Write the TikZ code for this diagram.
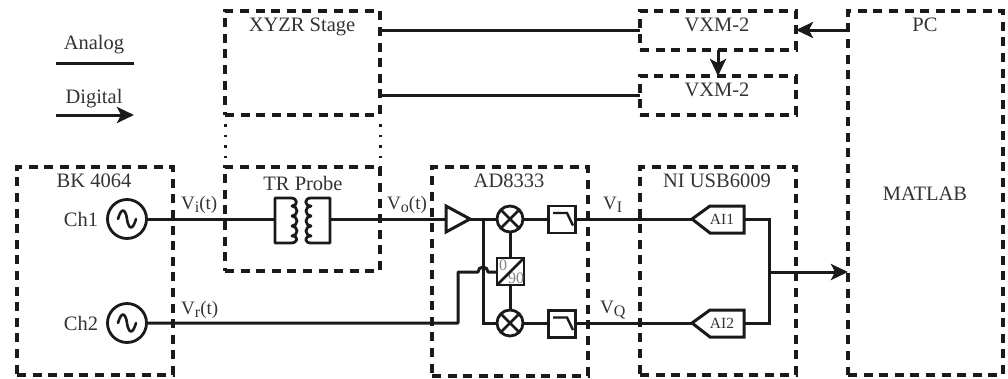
\documentclass[tikz,border=0pt]{standalone}
\usepackage{fontspec}
\setmainfont{Liberation Serif}
\usetikzlibrary{arrows.meta}
\definecolor{ink}{HTML}{1A1A1A}
\definecolor{txt}{HTML}{333333}
\tikzset{
  dbox/.style={draw=ink,line width=3.2pt,dash pattern=on 9pt off 6.6pt,inner sep=0pt,outer sep=0pt,anchor=north west},
  title/.style={text=txt,font=\fontsize{20.5}{21}\selectfont,inner sep=0pt},
  sig/.style={text=txt,font=\fontsize{19}{20}\selectfont,inner sep=0pt,anchor=base west},
  wire/.style={draw=ink,line width=3pt},
  digi/.style={wire,-{Stealth[length=17pt,width=16pt,inset=4pt]}},
  srcnode/.style={circle,draw=ink,line width=2.8pt,minimum size=39pt,inner sep=0pt,outer sep=0pt},
  mixnode/.style={circle,draw=ink,line width=2.8pt,fill=white,minimum size=26pt,inner sep=0pt,outer sep=0pt},
  sqnode/.style={rectangle,draw=ink,line width=2.8pt,fill=white,minimum size=27pt,inner sep=0pt,outer sep=0pt},
}
\newcommand{\subtxt}[1]{\raisebox{-3.5pt}{\fontsize{16}{16}\selectfont #1}}
\begin{document}
\begin{tikzpicture}[x=1pt,y=-1pt]
\useasboundingbox (0,0) rectangle (1008,378);
% dashed boxes
\node[dbox,minimum width=156pt,minimum height=208pt] (bk) at (17,167) {};
\node[dbox,minimum width=155pt,minimum height=104pt] (xyzr) at (225,11) {};
\node[dbox,minimum width=155pt,minimum height=104pt] (tr) at (225,167) {};
\node[dbox,minimum width=156pt,minimum height=209pt] (ad) at (432,167) {};
\node[dbox,minimum width=156pt,minimum height=208pt] (ni) at (640,167) {};
\node[dbox,minimum width=156pt,minimum height=39pt] (vxma) at (640,11) {};
\node[dbox,minimum width=156pt,minimum height=39pt] (vxmb) at (640,76) {};
\node[dbox,minimum width=155pt,minimum height=364pt] (pc) at (848,11) {};
% dotted links
\draw[draw=ink,line width=3pt,dash pattern=on 2.6pt off 8pt] (xyzr.south west) ++(0,9) -- (tr.north west);
\draw[draw=ink,line width=3pt,dash pattern=on 2.6pt off 8pt] (xyzr.south east) ++(0,9) -- (tr.north east);
% titles
\node[title] (tbk) at (94,181) {BK 4064};
\node[title] (txyzr) at (302,27) {XYZR Stage};
\node[title] (ttr) at (303,183) {TR Probe};
\node[title] (tad) at (509,181) {AD8333};
\node[title] (tni) at (717,181) {NI USB6009};
\node[title] (tva) at (717,25) {VXM-2};
\node[title] (tvb) at (717,90) {VXM-2};
\node[title] (tpc) at (925,25) {PC};
\node[title] (tmat) at (925,194) {MATLAB};
\node[title] (tan) at (94,44.5) {Analog};
\node[title] (tdi) at (94,98.5) {Digital};
\node[title] (tc1) at (81,219) {Ch1};
\node[title] (tc2) at (81,323) {Ch2};
% legend
\coordinate (la) at (56,63); \coordinate (lb) at (134,63);
\coordinate (da) at (56,115); \coordinate (db) at (134,115);
\draw[wire] (la) -- (lb);
\draw[digi] (da) -- (db);
% sources
\node[srcnode] (s1) at (127,219) {};
\node[srcnode] (s2) at (127,323) {};
\foreach \s in {s1,s2}{
  \draw[draw=ink,line width=2.6pt,line cap=round] ([xshift=-9pt]\s.center) .. controls ([xshift=-5pt,yshift=14pt]\s.center) and ([xshift=-1pt,yshift=8pt]\s.center) .. (\s.center) .. controls ([xshift=1pt,yshift=-8pt]\s.center) and ([xshift=5pt,yshift=-14pt]\s.center) .. ([xshift=9pt]\s.center);
}
% transformer
\coordinate (tl) at (275,219); \coordinate (tr2) at (330,219);
\draw[wire,line join=round,line width=2.8pt] (291,243) -- (275,243) -- (275,198) -- (291,198)
  .. controls (298,198) and (298,206) .. (292,206)
  arc[start angle=90,end angle=-90,radius=5pt]
  arc[start angle=90,end angle=-90,radius=5pt]
  arc[start angle=90,end angle=-90,radius=5pt]
  .. controls (299,236) and (298,243) .. (291,243);
\draw[wire,line join=round,line width=2.8pt] (311,243) -- (330,243) -- (330,198) -- (311,198)
  .. controls (304,198) and (304,206) .. (311,206)
  arc[start angle=90,end angle=270,radius=5pt]
  arc[start angle=90,end angle=270,radius=5pt]
  arc[start angle=90,end angle=270,radius=5pt]
  .. controls (304,236) and (304,243) .. (311,243);
% amp
\coordinate (ampa) at (446,206); \coordinate (ampb) at (446,232); \coordinate (ampt) at (470,219); \coordinate (ampi) at (446,219);
\draw[wire,fill=white,line join=miter] (ampa) -- (ampt) -- (ampb) -- cycle;
% mixers, filters, phase
\node[mixnode] (m1) at (510,219) {};
\node[mixnode] (m2) at (510,323) {};
\foreach \m in {m1,m2}{
  \draw[draw=ink,line width=2.6pt] (\m.45) -- (\m.225) (\m.135) -- (\m.315);
}
\node[sqnode] (f1) at (562,219.5) {};
\node[sqnode] (f2) at (562,324) {};
\foreach \f in {f1,f2}{
  \draw[draw=ink,line width=2.4pt] ([xshift=-9pt,yshift=6.5pt]\f.center) -- ([xshift=5pt,yshift=6.5pt]\f.center) -- ([xshift=11pt,yshift=-6pt]\f.center);
}
\node[sqnode] (ph) at (510.5,271.5) {};
\node[text=gray,inner sep=0pt,font=\fontsize{16}{16}\selectfont] (ph0) at (503,265) {0};
\node[text=gray,inner sep=0pt,font=\fontsize{16}{16}\selectfont] (ph90) at (516,278) {90};
\draw[draw=ink,line width=2.6pt] (ph.south west) -- (ph.north east);
% AI blocks
\coordinate (a1t) at (692,219); \coordinate (a1r) at (744,219);
\coordinate (a2t) at (692,323); \coordinate (a2r) at (744,323);
\draw[wire,fill=white] (a1t) -- (710,206) -- (744,206) -- (744,233) -- (710,233) -- cycle;
\draw[wire,fill=white] (a2t) -- (710,310) -- (744,310) -- (744,337) -- (710,337) -- cycle;
\node[text=txt,inner sep=0pt,font=\fontsize{15.5}{16}\selectfont] (ai1) at (722,219.5) {AI1};
\node[text=txt,inner sep=0pt,font=\fontsize{15.5}{16}\selectfont] (ai2) at (722,323.5) {AI2};
% wires
\draw[wire] (s1.east) -- (tl);
\draw[wire] (tr2) -- (ampi);
\draw[wire] (ampt) -- (m1.west);
\draw[wire] (m1.east) -- (f1.west |- m1.east);
\draw[wire] (f1.east |- m1.east) -- (a1t);
\draw[wire] (m2.east) -- (f2.west |- m2.east);
\draw[wire] (f2.east |- m2.east) -- (a2t);
\draw[wire] (m1.south) -- (m1.south |- ph.north);
\draw[wire] (m2.north) -- (m2.north |- ph.south);
\coordinate (vt) at (483,219);
\coordinate (vb) at (483,323);
\coordinate (c2a) at (458,323);
\coordinate (c2b) at (458,272);
\coordinate (hopa) at (478,272);
\coordinate (hopb) at (488,272);
\coordinate (phin) at (ph.west |- hopb);
\draw[wire] (vt) -- (vb) -- (m2.west);
\draw[wire,line join=round] (s2.east) -- (c2a) -- (c2b) -- (hopa) arc[start angle=180,end angle=0,radius=5pt] -- (phin);
\coordinate (orr) at (769,272);
\draw[wire,line join=miter] (a1r) -- (769,219) -- (769,323) -- (a2r);
\draw[digi] (orr) -- (pc.west |- orr);
\coordinate (xa) at (xyzr.east |- 0,30);
\coordinate (xb) at (xyzr.east |- 0,95);
\draw[wire] (xa) -- (vxma.west |- xa);
\draw[wire] (xb) -- (vxmb.west |- xb);
\draw[digi] (pc.west |- xa) -- (vxma.east |- xa);
\draw[digi] (718,50) coordinate (va) -- (718,76) coordinate (vb2);
% signal labels
\node[sig] (lvi) at (181,209) {V\subtxt{i}(t)};
\node[sig] (lvr) at (181,314) {V\subtxt{r}(t)};
\node[sig] (lvo) at (387,209) {V\subtxt{o}(t)};
\node[sig] (lvI) at (603,209) {V\subtxt{I}};
\node[sig] (lvQ) at (600,313) {V\subtxt{Q}};
\end{tikzpicture}
\end{document}
